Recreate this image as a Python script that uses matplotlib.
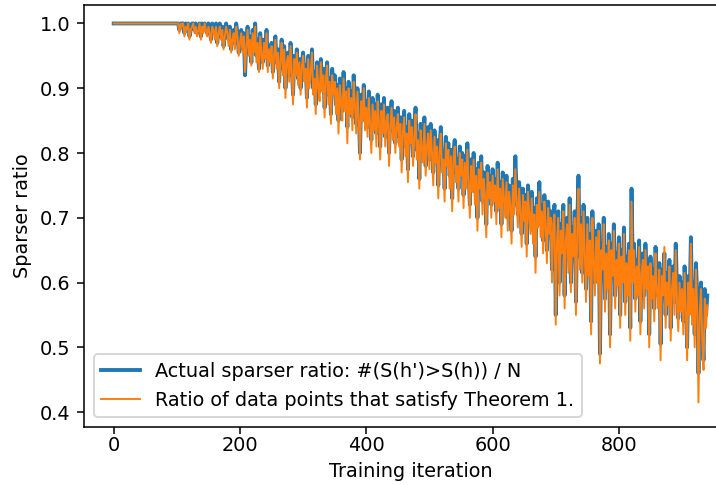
import matplotlib
matplotlib.use('Agg')
import matplotlib.pyplot as plt

# training iterations (read every 2 steps)
iterations = list(range(0, 941, 2))

# actual sparser ratio  #(S(h')>S(h)) / N   (25 values per row = 50 iterations)
actual_ratio = [
    1.0, 1.0, 1.0, 1.0, 1.0, 1.0, 1.0, 1.0, 1.0, 1.0, 1.0, 1.0, 1.0, 1.0, 1.0, 1.0, 1.0, 1.0, 1.0, 1.0, 1.0, 1.0, 1.0, 1.0, 1.0,
    1.0, 1.0, 1.0, 1.0, 1.0, 1.0, 1.0, 1.0, 1.0, 1.0, 1.0, 1.0, 1.0, 1.0, 1.0, 1.0, 1.0, 1.0, 1.0, 1.0, 1.0, 1.0, 1.0, 1.0, 1.0,
    1.0, 1.0, 0.99, 1.0, 1.0, 1.0, 0.985, 1.0, 0.995, 1.0, 0.98, 0.99, 1.0, 1.0, 0.99, 1.0, 0.985, 0.995, 1.0, 0.98, 1.0, 0.99, 1.0, 0.995, 0.985,
    1.0, 0.99, 0.975, 1.0, 0.995, 0.985, 1.0, 0.97, 0.99, 1.0, 0.98, 0.995, 0.965, 0.985, 1.0, 0.99, 0.975, 0.995, 0.96, 0.98, 0.99, 0.97, 1.0, 0.985, 0.955,
    0.975, 0.99, 0.96, 0.985, 0.92, 0.97, 0.995, 0.955, 0.98, 0.94, 0.99, 0.965, 1.0, 0.95, 0.975, 0.93, 0.985, 0.96, 0.94, 0.975, 0.95, 0.99, 0.935, 0.965, 0.945,
    0.97, 0.925, 0.955, 0.98, 0.94, 0.96, 0.91, 0.95, 0.975, 0.93, 0.965, 0.9, 0.945, 0.955, 0.92, 0.97, 0.935, 0.89, 0.95, 0.93, 0.96, 0.915, 0.945, 0.9, 0.94,
    0.955, 0.92, 0.935, 0.885, 0.95, 0.91, 0.93, 0.96, 0.9, 0.925, 0.875, 0.94, 0.915, 0.895, 0.945, 0.905, 0.93, 0.87, 0.92, 0.94, 0.89, 0.915, 0.86, 0.93, 0.9,
    0.92, 0.875, 0.905, 0.85, 0.915, 0.89, 0.865, 0.925, 0.88, 0.9, 0.84, 0.91, 0.87, 0.895, 0.855, 0.92, 0.885, 0.845, 0.9, 0.87, 0.8, 0.89, 0.865, 0.905, 0.85,
    0.88, 0.84, 0.895, 0.86, 0.82, 0.885, 0.85, 0.875, 0.83, 0.89, 0.865, 0.81, 0.875, 0.845, 0.885, 0.825, 0.86, 0.87, 0.8, 0.855, 0.88, 0.835, 0.865, 0.815, 0.85,
    0.87, 0.825, 0.855, 0.79, 0.845, 0.865, 0.81, 0.84, 0.775, 0.86, 0.83, 0.85, 0.795, 0.835, 0.87, 0.805, 0.83, 0.76, 0.845, 0.82, 0.8, 0.855, 0.78, 0.825, 0.84,
    0.79, 0.845, 0.815, 0.77, 0.835, 0.8, 0.82, 0.75, 0.81, 0.84, 0.785, 0.8, 0.745, 0.825, 0.795, 0.815, 0.765, 0.805, 0.73, 0.8, 0.82, 0.77, 0.79, 0.745, 0.81,
    0.78, 0.8, 0.735, 0.795, 0.76, 0.815, 0.77, 0.72, 0.79, 0.755, 0.8, 0.74, 0.775, 0.7, 0.785, 0.76, 0.795, 0.725, 0.77, 0.75, 0.69, 0.78, 0.745, 0.765, 0.72,
    0.775, 0.74, 0.76, 0.71, 0.785, 0.73, 0.755, 0.69, 0.77, 0.745, 0.72, 0.765, 0.7, 0.75, 0.735, 0.68, 0.76, 0.72, 0.795, 0.74, 0.705, 0.755, 0.725, 0.675, 0.745,
    0.71, 0.735, 0.66, 0.75, 0.72, 0.695, 0.74, 0.68, 0.715, 0.64, 0.73, 0.7, 0.755, 0.69, 0.72, 0.665, 0.735, 0.705, 0.65, 0.725, 0.69, 0.71, 0.62, 0.7, 0.72,
    0.55, 0.68, 0.71, 0.6, 0.69, 0.66, 0.72, 0.58, 0.675, 0.7, 0.635, 0.73, 0.6, 0.685, 0.655, 0.71, 0.57, 0.69, 0.765, 0.64, 0.7, 0.615, 0.72, 0.66, 0.59,
    0.7, 0.63, 0.675, 0.54, 0.71, 0.65, 0.6, 0.68, 0.62, 0.69, 0.49, 0.66, 0.64, 0.7, 0.575, 0.655, 0.61, 0.675, 0.52, 0.66, 0.63, 0.69, 0.58, 0.645, 0.615,
    0.67, 0.55, 0.65, 0.62, 0.685, 0.57, 0.64, 0.6, 0.66, 0.53, 0.745, 0.62, 0.66, 0.575, 0.635, 0.6, 0.665, 0.54, 0.625, 0.645, 0.58, 0.66, 0.61, 0.635, 0.52,
    0.64, 0.595, 0.62, 0.56, 0.655, 0.61, 0.58, 0.63, 0.505, 0.62, 0.6, 0.645, 0.55, 0.615, 0.585, 0.635, 0.53, 0.6, 0.625, 0.57, 0.66, 0.59, 0.545, 0.61, 0.575,
    0.6, 0.54, 0.625, 0.58, 0.5, 0.61, 0.57, 0.67, 0.555, 0.6, 0.52, 0.63, 0.58, 0.46, 0.57, 0.6, 0.53, 0.48, 0.59, 0.55, 0.58,
]

# ratio of data points that satisfy Theorem 1
theorem_ratio = [
    1.0, 1.0, 1.0, 1.0, 1.0, 1.0, 1.0, 1.0, 1.0, 1.0, 1.0, 1.0, 1.0, 1.0, 1.0, 1.0, 1.0, 1.0, 1.0, 1.0, 1.0, 1.0, 1.0, 1.0, 1.0,
    1.0, 1.0, 1.0, 1.0, 1.0, 1.0, 1.0, 1.0, 1.0, 1.0, 1.0, 1.0, 1.0, 1.0, 1.0, 1.0, 1.0, 1.0, 1.0, 1.0, 1.0, 1.0, 1.0, 1.0, 1.0,
    1.0, 1.0, 0.985, 1.0, 0.995, 1.0, 0.98, 0.995, 0.99, 1.0, 0.975, 0.99, 0.995, 1.0, 0.985, 0.995, 0.98, 0.99, 1.0, 0.975, 0.995, 0.985, 1.0, 0.99, 0.98,
    0.995, 0.985, 0.97, 0.995, 0.99, 0.975, 0.995, 0.965, 0.985, 0.995, 0.975, 0.99, 0.96, 0.98, 0.995, 0.985, 0.965, 0.99, 0.955, 0.975, 0.985, 0.96, 0.995, 0.98, 0.95,
    0.97, 0.985, 0.955, 0.98, 0.925, 0.965, 0.99, 0.95, 0.975, 0.935, 0.985, 0.955, 0.995, 0.94, 0.97, 0.925, 0.98, 0.955, 0.93, 0.97, 0.945, 0.985, 0.925, 0.96, 0.94,
    0.965, 0.915, 0.95, 0.975, 0.93, 0.955, 0.9, 0.945, 0.97, 0.92, 0.96, 0.885, 0.94, 0.95, 0.91, 0.965, 0.925, 0.875, 0.945, 0.92, 0.955, 0.905, 0.94, 0.89, 0.935,
    0.95, 0.91, 0.93, 0.87, 0.945, 0.9, 0.925, 0.955, 0.89, 0.915, 0.86, 0.935, 0.905, 0.88, 0.94, 0.895, 0.92, 0.855, 0.915, 0.935, 0.875, 0.91, 0.845, 0.92, 0.89,
    0.91, 0.86, 0.9, 0.83, 0.905, 0.88, 0.85, 0.915, 0.865, 0.895, 0.815, 0.9, 0.86, 0.885, 0.835, 0.91, 0.875, 0.83, 0.895, 0.855, 0.79, 0.88, 0.85, 0.9, 0.835,
    0.87, 0.825, 0.885, 0.845, 0.8, 0.875, 0.835, 0.865, 0.81, 0.88, 0.85, 0.79, 0.865, 0.83, 0.875, 0.81, 0.85, 0.86, 0.78, 0.84, 0.87, 0.82, 0.855, 0.8, 0.84,
    0.86, 0.81, 0.845, 0.77, 0.835, 0.855, 0.795, 0.83, 0.755, 0.85, 0.815, 0.84, 0.78, 0.825, 0.86, 0.79, 0.82, 0.745, 0.835, 0.805, 0.785, 0.845, 0.765, 0.81, 0.83,
    0.775, 0.835, 0.8, 0.75, 0.825, 0.785, 0.81, 0.73, 0.8, 0.83, 0.77, 0.79, 0.725, 0.815, 0.78, 0.805, 0.745, 0.795, 0.71, 0.79, 0.81, 0.755, 0.78, 0.725, 0.8,
    0.765, 0.79, 0.715, 0.785, 0.745, 0.805, 0.755, 0.7, 0.78, 0.74, 0.79, 0.72, 0.765, 0.68, 0.775, 0.745, 0.785, 0.705, 0.76, 0.735, 0.67, 0.77, 0.73, 0.755, 0.7,
    0.765, 0.725, 0.75, 0.69, 0.775, 0.715, 0.745, 0.67, 0.76, 0.73, 0.7, 0.755, 0.68, 0.74, 0.72, 0.66, 0.75, 0.705, 0.775, 0.725, 0.685, 0.745, 0.71, 0.655, 0.735,
    0.695, 0.725, 0.64, 0.74, 0.705, 0.675, 0.73, 0.66, 0.705, 0.615, 0.72, 0.685, 0.74, 0.67, 0.71, 0.645, 0.725, 0.69, 0.63, 0.715, 0.675, 0.7, 0.6, 0.69, 0.705,
    0.535, 0.665, 0.7, 0.58, 0.68, 0.645, 0.71, 0.56, 0.665, 0.69, 0.615, 0.72, 0.585, 0.675, 0.64, 0.7, 0.55, 0.68, 0.745, 0.62, 0.69, 0.6, 0.71, 0.645, 0.57,
    0.69, 0.61, 0.665, 0.52, 0.7, 0.635, 0.58, 0.67, 0.6, 0.68, 0.475, 0.65, 0.62, 0.69, 0.555, 0.645, 0.59, 0.665, 0.5, 0.65, 0.61, 0.68, 0.56, 0.635, 0.595,
    0.66, 0.53, 0.64, 0.6, 0.675, 0.55, 0.63, 0.58, 0.65, 0.51, 0.725, 0.6, 0.65, 0.555, 0.625, 0.58, 0.655, 0.52, 0.615, 0.635, 0.56, 0.65, 0.59, 0.625, 0.5,
    0.63, 0.575, 0.61, 0.54, 0.645, 0.59, 0.56, 0.62, 0.48, 0.61, 0.58, 0.655, 0.53, 0.6, 0.565, 0.625, 0.51, 0.59, 0.615, 0.55, 0.65, 0.57, 0.525, 0.6, 0.555,
    0.59, 0.52, 0.615, 0.56, 0.48, 0.6, 0.55, 0.66, 0.535, 0.59, 0.5, 0.62, 0.56, 0.415, 0.55, 0.59, 0.51, 0.465, 0.575, 0.53, 0.565,
]

DPI = 139
fig = plt.figure(figsize=(716 / DPI, 485 / DPI), dpi=DPI)
# axes run past the right edge, as in the cropped original
ax = fig.add_axes([84 / 716, 58 / 485, 653 / 716, 422 / 485])

ax.plot(iterations, actual_ratio, color='tab:blue', linewidth=2,
        label="Actual sparser ratio: #(S(h')>S(h)) / N")
ax.plot(iterations, theorem_ratio, color='tab:orange', linewidth=1,
        label='Ratio of data points that satisfy Theorem 1.')

ax.set_xlim(-47, 987)
ax.set_ylim(0.377, 1.0285)
ax.set_xticks([0, 200, 400, 600, 800])
ax.tick_params(axis='x', pad=1)
ax.set_xlabel('Training iteration', labelpad=4)
ax.set_ylabel('Sparser ratio')
ax.legend(loc='lower left')

fig.savefig('out.png', dpi=DPI)
